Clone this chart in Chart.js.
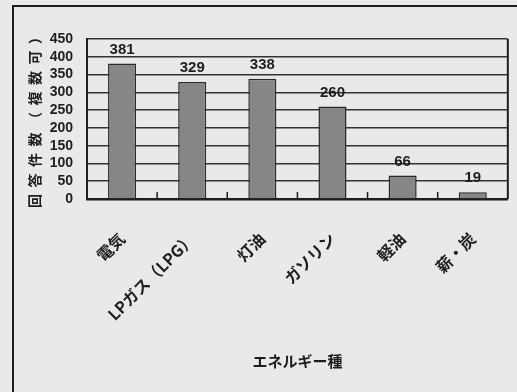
<!DOCTYPE html>
<html lang="ja">
<head>
<meta charset="utf-8">
<script src="https://cdn.jsdelivr.net/npm/chart.js@4.4.1/dist/chart.umd.min.js"></script>
<style>
    html, body { margin: 0; padding: 0; background: #e9e9e9; }
    #wrap { position: relative; width: 517px; height: 392px; overflow: hidden; }
    canvas { position: absolute; left: 0; top: 0; }
</style>
</head>
<body>
<div id="wrap">
    <canvas id="chart" width="517" height="392"></canvas>
</div>
<script>
const categories = ['電気', 'LPガス（LPG）', '灯油', 'ガソリン', '軽油', '薪・炭'];
const counts = [381, 329, 338, 260, 66, 19];
const yMax = 450;
const yStep = 50;
const yTitle = '回答件数（複数可）';
const xTitle = 'エネルギー種';

const INK = '#1e1e1e';
const SANS = '"Liberation Sans", Arial, sans-serif';
const JP = '"Noto Sans CJK JP", sans-serif';

// outer frame, right border, category tick marks, value labels and the spaced-out y title
const decorPlugin = {
    id: 'decor',
    afterDatasetsDraw(chart) {
        const { ctx, chartArea: { left, right, top, bottom }, scales: { x } } = chart;
        ctx.save();
        ctx.strokeStyle = INK;
        ctx.lineWidth = 2;
        ctx.beginPath();
        ctx.moveTo(13, 392);
        ctx.lineTo(13, 6);
        ctx.lineTo(517, 6);
        ctx.stroke();

        ctx.beginPath();
        ctx.moveTo(right, top);
        ctx.lineTo(right, bottom);
        ctx.stroke();

        ctx.lineWidth = 1.5;
        for (let i = 1; i < categories.length; i++) {
            const px = (x.getPixelForTick(i - 1) + x.getPixelForTick(i)) / 2;
            ctx.beginPath();
            ctx.moveTo(px, bottom);
            ctx.lineTo(px, bottom - 7);
            ctx.stroke();
        }

        const meta = chart.getDatasetMeta(0);
        ctx.fillStyle = INK;
        ctx.font = `bold 15px ${SANS}`;
        ctx.textAlign = 'center';
        ctx.textBaseline = 'alphabetic';
        meta.data.forEach((bar, i) => {
            ctx.fillText(String(counts[i]), bar.x, bar.y - 10);
        });

        ctx.translate(35, (top + bottom) / 2);
        ctx.rotate(-Math.PI / 2);
        ctx.font = `bold 14px ${JP}`;
        ctx.letterSpacing = '6.5px';
        ctx.textAlign = 'center';
        ctx.textBaseline = 'middle';
        ctx.fillText(yTitle, 3.25, 0);
        ctx.restore();
    }
};

new Chart(document.getElementById('chart').getContext('2d'), {
    type: 'bar',
    data: {
        labels: categories,
        datasets: [{
            data: counts,
            backgroundColor: '#868686',
            borderColor: '#2a2a2a',
            borderWidth: 1.5,
            categoryPercentage: 1,
            barPercentage: 0.4
        }]
    },
    options: {
        responsive: false,
        animation: false,
        devicePixelRatio: 1,
        layout: { padding: { top: 39, right: 8, left: 0, bottom: 0 } },
        plugins: { legend: { display: false }, tooltip: { enabled: false } },
        scales: {
            x: {
                grid: { display: false, drawTicks: false },
                border: { display: true, color: INK, width: 2.5 },
                ticks: {
                    autoSkip: false,
                    minRotation: 45,
                    maxRotation: 45,
                    padding: 30,
                    color: INK,
                    font: { family: JP, size: 16, weight: 'bold' }
                },
                title: {
                    display: true,
                    text: xTitle,
                    color: INK,
                    font: { family: JP, size: 15, weight: 'bold' },
                    padding: { top: 0, bottom: 22 }
                },
                afterFit(scale) { scale.height = 193; }
            },
            y: {
                min: 0,
                max: yMax,
                grid: { color: '#333', lineWidth: 1.5, drawTicks: false },
                border: { display: true, color: INK, width: 2 },
                ticks: {
                    stepSize: yStep,
                    autoSkip: false,
                    padding: 14,
                    color: INK,
                    font: { family: SANS, size: 14, weight: 'bold', lineHeight: 1 }
                },
                afterFit(scale) { scale.width = 87; }
            }
        }
    },
    plugins: [decorPlugin]
});
</script>
</body>
</html>
